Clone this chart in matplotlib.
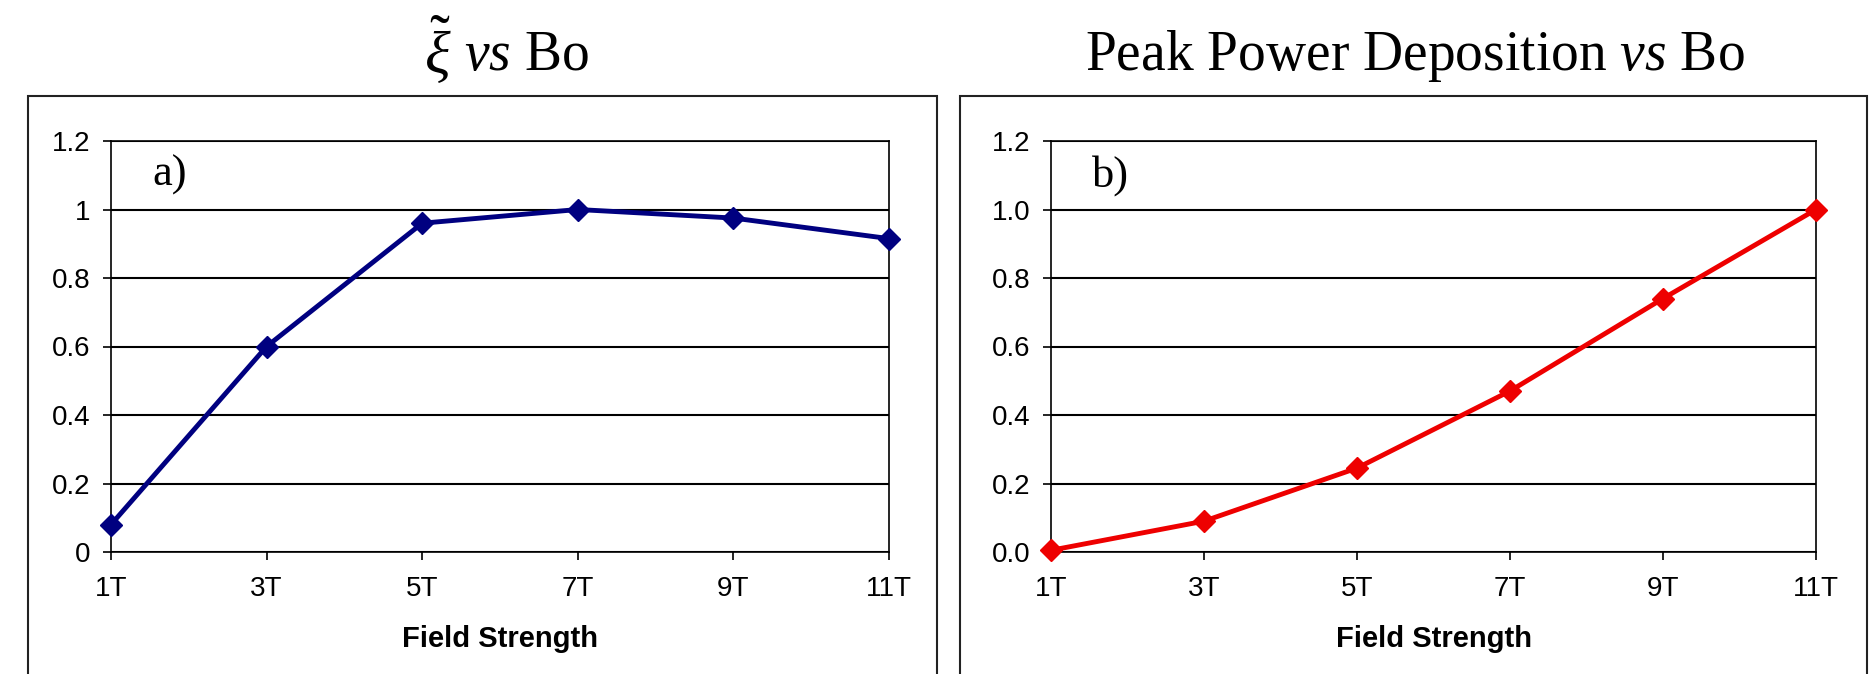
import matplotlib
matplotlib.use("Agg")
import matplotlib.pyplot as plt
from matplotlib.patches import Rectangle

plt.rcParams["mathtext.fontset"] = "custom"
plt.rcParams["mathtext.rm"] = "Liberation Serif"
plt.rcParams["mathtext.it"] = "Liberation Serif:italic"
plt.rcParams["mathtext.bf"] = "Liberation Serif:bold"

categories = ["1T", "3T", "5T", "7T", "9T", "11T"]
xi_values = [0.08, 0.60, 0.96, 1.00, 0.975, 0.915]
power_values = [0.005, 0.09, 0.245, 0.47, 0.74, 1.00]
yticks = [0, 0.2, 0.4, 0.6, 0.8, 1.0, 1.2]
left_ylabels = ["0", "0.2", "0.4", "0.6", "0.8", "1", "1.2"]
right_ylabels = ["0.0", "0.2", "0.4", "0.6", "0.8", "1.0", "1.2"]

W, H = 1872, 674
fig = plt.figure(figsize=(W / 100, H / 100), dpi=100)

def fx(px):
    return px / W

def fy(py):
    return 1 - py / H

# outer boxes
for x0, x1 in [(28, 937), (960, 1867)]:
    fig.patches.append(Rectangle((fx(x0), fy(690)), fx(x1) - fx(x0), fy(96) - fy(690),
                                 transform=fig.transFigure, fill=False,
                                 edgecolor="#222222", linewidth=1.5, zorder=0))

def make_panel(left_px, right_px, values, color, ylabels, tag):
    ax = fig.add_axes([fx(left_px), fy(552), fx(right_px) - fx(left_px), fy(141) - fy(552)])
    x = list(range(len(categories)))
    ax.plot(x, values, color=color, linewidth=3.5, marker="D", markersize=11,
            markeredgecolor=color, markerfacecolor=color, zorder=3, clip_on=False)
    ax.set_xlim(0, len(categories) - 1)
    ax.set_ylim(0, 1.2)
    ax.set_xticks(x)
    ax.set_xticklabels(categories)
    ax.set_yticks(yticks)
    ax.set_yticklabels(ylabels)
    ax.yaxis.grid(True, color="black", linewidth=1.5)
    ax.set_axisbelow(True)
    for s in ax.spines.values():
        s.set_color("black")
        s.set_linewidth(1.2)
    ax.tick_params(axis="both", direction="out", length=6, width=1.2, color="black",
                   labelsize=20, pad=9)
    ax.tick_params(axis="x", pad=11)
    for lab in ax.get_xticklabels() + ax.get_yticklabels():
        lab.set_fontfamily("Liberation Sans")
    ax.set_xlabel("Field Strength", fontsize=21, fontweight="bold",
                  fontfamily="Liberation Sans", labelpad=17)
    ax.text(0.053, 0.917, tag, transform=ax.transAxes, fontsize=32,
            fontfamily="Liberation Serif", va="center", ha="left")
    return ax

make_panel(111, 889, xi_values, "#000080", left_ylabels, "a)")
make_panel(1051, 1816, power_values, "#EE0000", right_ylabels, "b)")

fig.text(fx(452), fy(74), r"$\tilde{\xi}$", fontsize=43, ha="right",
         va="baseline", fontfamily="Liberation Serif")
fig.text(fx(464), fy(70), r"$\mathit{vs}$ Bo", fontsize=40, ha="left",
         va="baseline", fontfamily="Liberation Serif")
fig.text(fx(1415), fy(70), r"Peak Power Deposition $\mathit{vs}$ Bo", fontsize=40,
         ha="center", va="baseline", fontfamily="Liberation Serif")

fig.savefig("out.png", dpi=100)
